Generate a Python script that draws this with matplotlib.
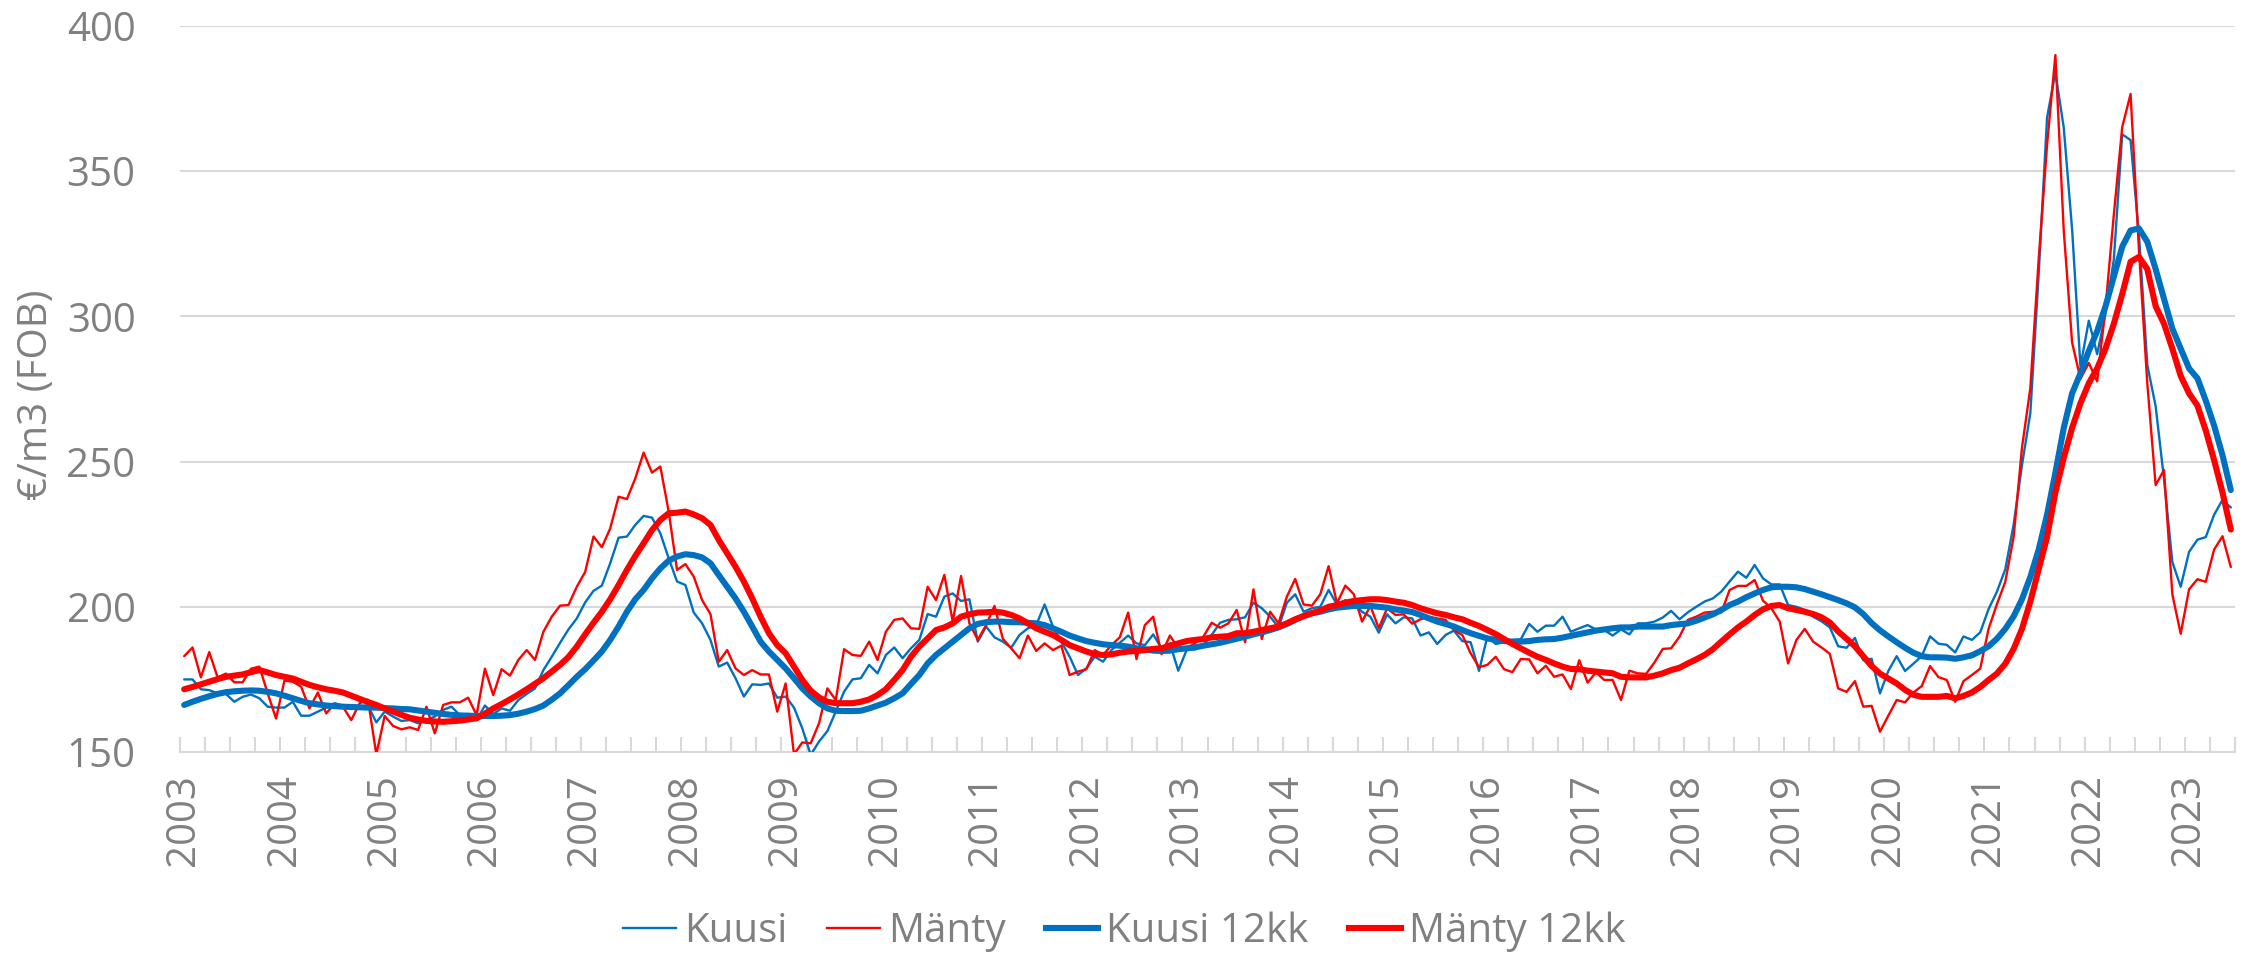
import numpy as np
import matplotlib
matplotlib.use("Agg")
import matplotlib.pyplot as plt
from matplotlib import font_manager
from matplotlib.lines import Line2D

# ---------------- data (monthly, Jan 2003 - Jun 2023) ----------------
years = [str(y) for y in range(2003, 2024)]

kuusi = [175, 175, 171.6, 171.3, 170.2, 170, 167.3, 169, 169.8, 168.5, 165.6, 165.3, 165.3, 167.3, 162.5, 162.5,
         163.9, 165.3, 166.8, 166, 166, 165.6, 166, 160.2, 163.9, 162.2, 160.7, 161, 159.9, 161, 162.2, 164.5,
         165.6, 162.7, 163.1, 161, 166, 163.1, 165, 164.2, 167.9, 170, 171.9, 178.2, 182.8, 187.6, 192.2, 196,
         201.5, 205.5,
         207.3, 215, 223.8, 224.2, 228.2, 231.3, 230.7, 225.3, 216.7, 208.7, 207.5, 198, 194.3, 188.6, 179.4, 180.8,
         175.4, 169.1, 173.3, 173.1, 173.6, 168.7, 169.1, 165.3, 158.1, 149, 153.6, 157.2, 163.9, 170.8, 175, 175.4,
         180, 177.1, 183.4, 186, 182.3, 185.7, 188.6, 197.5, 196.6, 203.5, 204.6, 202, 202.6, 188, 193.2, 189.5, 188,
         185.9, 190.3, 192.6, 193.7, 200.8, 193.2, 188, 182.8, 176.5, 178.8, 182.8, 181.1, 185.1, 187.6, 190.1, 187.4,
         186.8, 190.5, 185.7, 187.4, 178, 185.1, 185.4, 186.8, 190.3, 194.5, 195.5, 195.7, 196.4, 201.4, 199.5, 196.6,
         192.9, 201.4, 204.3, 198.3, 199.5, 200, 205.8, 200.8, 202.3, 201, 198.3, 196.6, 191.1, 197.4, 194.3, 196.4, 196,
         190.1, 191.2, 187.2, 190.3, 191.8, 188.2, 187.8, 177.9, 189.7, 187.2, 187.8, 188.6, 188.8, 194.1, 191.4, 193.5,
         193.5, 196.6, 191.4, 192.6, 193.7, 192.2, 192, 190.1, 192.2, 190.5, 194.3, 194.3, 194.9, 196.3, 198.6, 195.7,
         198.1, 200, 201.8, 202.9, 205.2, 208.7, 212.1, 210, 214.4, 209.8, 207.7, 207.7, 200.6, 200, 198.9, 196.6, 195,
         192.9, 186.4, 185.9, 189.3, 181.6, 182.1, 170.2, 177.9, 183, 177.9, 180.4, 183, 189.8, 187.3, 186.9, 184.3,
         189.8, 188.6, 191.2, 199.2, 205.2, 212.9, 228.3, 248.8, 266.7, 314.6, 368.4, 384, 365, 330, 282.8, 298.5,
         287, 300.9, 319.7, 362.7, 360.7, 328.2, 283.3, 269.1, 244, 215.4, 206.9, 218.9, 223.1, 224, 231.7, 236.8, 234.2]

manty = [183, 186, 175.7, 184.4, 175.7, 177, 174, 174, 178.7, 179.4, 170.2, 161.5, 174.6, 174.2, 172.5, 165,
         170.5, 163.3, 166.5, 165.6, 161, 166.8, 168, 149.2, 162.4, 159, 157.8, 158.5, 157.6, 165.6, 156.4, 166.2,
         167.1, 167.1, 168.7, 162.7, 178.7, 169.6, 178.5, 176.3, 181.7, 185.1, 181.7, 191.4, 196.6, 200.4, 200.6, 206.9,
         212, 224.2,
         220.5, 227, 237.9, 237.1, 244.2, 253.1, 246.2, 248.3, 232.8, 212.7, 214.7, 210.4, 202.3, 197.5, 181.1, 185.1,
         178.8, 176.5, 178.2, 176.7, 176.7, 163.9, 173.6, 149.2, 153.3, 153, 159.9, 171.9, 167.9, 185.4, 183.4, 183.1,
         188, 181.7, 191.4, 195.5, 196, 192.6, 192.4, 206.9, 202.3, 211, 194.9, 210.6, 194.3, 188.6, 193.7, 200.3, 189,
         185.7, 182.3, 190.1, 184.8, 187.4, 185.1, 186.6, 176.5, 177.7, 178.5, 185.1, 183.4, 186.8, 189.5, 198, 182,
         193.7, 196.6, 183.7, 190.1, 185.7, 185.9, 187.4, 189.7, 194.5, 192.8, 194.3, 198.9, 187.8, 206, 188.9, 198.3,
         194.3, 203.5, 209.6, 200.8, 200.4, 204.3, 214, 201.2, 207.3, 204.4, 194.9, 200.3, 192.6, 199.5, 197.2, 197.4, 194.2,
         195.7, 196.6, 196, 195.5, 192, 190.3, 184, 179.2, 180, 182.8, 178.5, 177.5, 182, 181.9, 177.1, 179.7,
         175.9, 176.7, 171.7, 181.6, 173.9, 177.4, 174.8, 174.8, 167.9, 178, 177.1, 176.9, 180.8, 185.5, 185.7, 189.7,
         195.5, 196.6, 198, 198.3, 198, 205.8, 207.2, 207.2, 209.2, 202.1, 199.5, 194.9, 180.5, 188.6, 192.4, 188, 186,
         183.8, 171.9, 170.7, 174.4, 165.6, 165.9, 157, 162.5, 167.9, 167.1, 170.5, 172.7, 179.6, 175.8, 174.8, 167.3,
         174.4, 176.5, 178.7, 192.4, 200.9, 208.6, 224, 254.8, 275.3, 319.7, 359, 390, 329.5, 291, 278.5, 284,
         277.6, 303, 335.2, 365.2, 376.6, 323, 277, 241.9, 247.1, 204.3, 190.7, 206, 209.5, 208.6, 219.7, 224.3, 213.7]

kuusi_12kk = [166.2, 167.3, 168.3, 169.2, 170, 170.6, 170.9, 171.1, 171.2, 171.1, 170.7, 170.2, 169.4, 168.5, 167.6, 166.8,
              166.4, 166, 165.8, 165.6, 165.5, 165.4, 165.3, 165.3, 165.1, 165, 164.8, 164.7, 164.3, 163.9, 163.5, 163.1,
              162.8, 162.6, 162.5, 162.4, 162.4, 162.4, 162.5, 162.7, 163.2, 163.9, 164.8, 166, 168, 170.2, 173, 175.9,
              178.5, 181.5,
              184.6, 188.6, 193.2, 198.3, 202.6, 205.8, 209.8, 213.2, 215.9, 217.3, 218.1, 217.8, 217, 215, 210.9, 206.9,
              202.9, 198.3, 193.2, 188, 184.6, 181.7, 178.8, 175.4, 171.9, 169.1, 166.8, 165, 164.2, 164.1, 164.1, 164.2,
              165, 166, 167, 168.5, 170.2, 173.4, 176.5, 180.5, 183.4, 185.7, 188, 190.3, 192.6, 194.1, 194.7, 194.9, 194.9,
              194.7, 194.7, 194.5, 194.3, 193.7, 192.6, 191.4, 190.1, 189.1, 188.2, 187.6, 187.1, 186.8, 186.6, 186.3, 185.7,
              185.4, 184.9, 184.8, 184.9, 185.4, 185.7, 186, 186.6, 187.1, 187.6, 188.3, 189, 189.7, 190.5, 191.2, 192,
              192.9, 194.1, 195.5, 196.8, 197.8, 198.3, 199.1, 199.7, 200, 200.3, 200.3, 200.3, 200, 199.7, 199.1, 198.7, 198.2,
              197.2, 196, 194.9, 194.1, 193.2, 192, 190.9, 190, 189.1, 188.6, 188.2, 188, 188, 188.2, 188.6, 188.8,
              188.9, 189.4, 190, 190.6, 191.2, 191.8, 192.2, 192.6, 192.9, 192.9, 193.2, 193.2, 193.2, 193.2, 193.7, 194,
              194.3, 195.2, 196.3, 197.4, 198.9, 200.6, 201.8, 203.3, 204.6, 205.8, 206.7, 206.9, 206.9, 206.7, 206.1, 205.2, 204.3,
              203.3, 202.3, 201.2, 199.8, 197.5, 194.4, 191.9, 189.8, 187.8, 185.9, 184.2, 183, 182.6, 182.6, 182.5, 182.1,
              182.6, 183.3, 184.7, 186.4, 189, 192.4, 196.7, 202.6, 210.3, 219.7, 231.7, 246.2, 261.6, 273.5, 280.4, 288.1,
              294.9, 303.5, 313.7, 324, 329.6, 330.3, 325.7, 316.3, 306, 295.8, 288.9, 282.1, 278.7, 271, 262.4, 252.2, 240.2]

manty_12kk = [171.6, 172.4, 173.3, 174.2, 175.1, 175.9, 176.3, 176.7, 177.5, 178.2, 177.4, 176.5, 175.9, 175.3, 174.2, 173.1,
              172.3, 171.6, 171.1, 170.5, 169.4, 168.3, 167.2, 166.2, 165, 163.9, 162.8, 161.8, 161.2, 160.7, 160.5, 160.4,
              160.6, 160.8, 161.2, 161.6, 163.2, 165, 166.5, 168.1, 169.8, 171.6, 173.5, 175.4, 177.7, 180, 182.7, 186.3,
              190.5, 194.5,
              198.3, 202.6, 207.5, 212.7, 217.5, 221.9, 226.4, 229.9, 232.2, 232.4, 232.8, 231.8, 230.5, 228.2, 223, 218.4,
              213.8, 208.7, 202.9, 196.6, 190.9, 186.8, 184, 179.4, 174.8, 171.1, 168.8, 167.3, 166.8, 166.8, 166.8, 167.3,
              168.1, 169.6, 171.6, 174.8, 178.2, 182.8, 186.3, 189.1, 192, 192.9, 194.3, 196.6, 197.4, 198, 198.1, 198.3, 198,
              197.2, 196, 194.3, 192.6, 191.4, 190.3, 188.6, 186.8, 185.7, 184.6, 183.7, 183.4, 183.6, 184.2, 184.6, 184.8,
              185.1, 185.5, 185.7, 186.6, 187.4, 188.2, 188.6, 188.9, 189.5, 189.7, 189.9, 190.9, 190.9, 191.4, 192, 192.6,
              193.2, 194.3, 195.7, 196.8, 197.8, 198.7, 200, 200.6, 201.4, 202, 202.3, 202.6, 202.6, 202.3, 201.8, 201.4, 200.6,
              199.5, 198.6, 197.8, 197.2, 196.4, 195.7, 194.5, 193.4, 192, 190.6, 188.9, 187.2, 185.7, 184.2, 182.8, 181.7,
              180.5, 179.4, 178.6, 178.5, 178, 177.7, 177.4, 177.1, 175.9, 175.7, 175.7, 175.7, 176.3, 177.1, 178.2, 179,
              180.5, 181.9, 183.4, 185.4, 188, 190.5, 192.9, 194.9, 197.2, 199.1, 200.3, 200.6, 199.5, 198.9, 198.3, 197.5, 196.4,
              194.6, 191.5, 189, 186.4, 183, 179.6, 177, 175.3, 173.6, 171.4, 169.7, 169, 169, 169, 169.3, 168.5,
              169.3, 170.5, 172.4, 174.8, 177, 180.4, 185.5, 192.4, 201.8, 212.9, 224, 239.4, 251.3, 261.6, 270.1, 277,
              282.1, 288.9, 297.5, 307.7, 318.8, 320.5, 316.3, 303.5, 297.5, 288.9, 279.5, 273.5, 269.3, 260.7, 250.5, 239.4, 226.6]

series_names = ["Kuusi", "Mänty", "Kuusi 12kk", "Mänty 12kk"]

# ---------------- style ----------------
def pick_font(cands):
    for c in cands:
        try:
            font_manager.findfont(font_manager.FontProperties(family=c), fallback_to_default=False)
            return c
        except Exception:
            continue
    return "DejaVu Sans"

FONT = pick_font(["Liberation Sans Narrow", "Open Sans", "Liberation Sans"])
plt.rcParams["font.family"] = [FONT, "DejaVu Sans"]

BLUE = "#0070C0"
RED = "#FF0000"
GRID = "#D9D9D9"
TXT = "#808080"
FS = 29

W, H = 2249, 956
fig = plt.figure(figsize=(W / 100, H / 100), dpi=100)
ax = fig.add_axes([180 / W, 1 - 752 / H, (2235 - 180) / W, (752 - 26) / H])

n = len(kuusi)
x = np.arange(n)
lw_thin = 1.7
lw_thick = 4.4
kw = dict(solid_joinstyle="round", solid_capstyle="round")
ax.plot(x, kuusi, color=BLUE, lw=lw_thin, zorder=3, **kw)
ax.plot(x, manty, color=RED, lw=lw_thin, zorder=4, **kw)
ax.plot(x, kuusi_12kk, color=BLUE, lw=lw_thick, zorder=5, **kw)
ax.plot(x, manty_12kk, color=RED, lw=lw_thick, zorder=6, **kw)

ax.set_xlim(-0.5, n - 0.5)
ax.set_ylim(150, 400)
ax.set_yticks(np.arange(150, 401, 50))
ax.yaxis.grid(True, color=GRID, lw=1.5)
ax.set_axisbelow(True)
for s in ["left", "right", "top"]:
    ax.spines[s].set_visible(False)
ax.spines["bottom"].set_color(GRID)
ax.spines["bottom"].set_linewidth(1.5)
ax.spines["bottom"].set_zorder(1)

ax.tick_params(axis="y", length=0, pad=32, labelsize=FS, labelcolor=TXT)
ax.set_xticks(np.arange(0, n, 12))
ax.set_xticklabels(years, rotation=90, fontsize=FS, color=TXT)
ax.tick_params(axis="x", which="major", length=0, pad=16)
ax.set_xticks(np.arange(-0.5, n, 3), minor=True)
ax.tick_params(axis="x", which="minor", direction="in", length=11, width=1.5, color=GRID)

fig.text(37 / W, 1 - 290 / H, "€/m3 (FOB)", rotation=90, ha="center", va="top",
         fontsize=FS, color=TXT)

handles = [Line2D([], [], color=BLUE, lw=lw_thin),
           Line2D([], [], color=RED, lw=lw_thin),
           Line2D([], [], color=BLUE, lw=lw_thick),
           Line2D([], [], color=RED, lw=lw_thick)]
leg = fig.legend(handles, series_names, loc="center", bbox_to_anchor=(0.5, 1 - 932 / H), ncol=4,
                 frameon=False, fontsize=FS, handlelength=1.3, handletextpad=0.2, columnspacing=1.0)
for t in leg.get_texts():
    t.set_color(TXT)

fig.savefig("out.png", dpi=100)
